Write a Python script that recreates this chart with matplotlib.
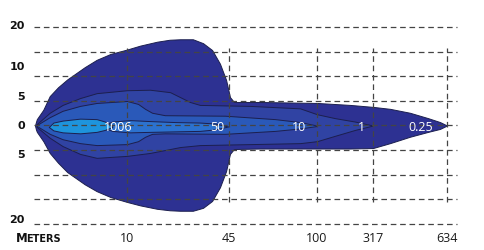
#!/usr/bin/env python
#-*- coding: utf-8 -*-
import numpy as np
import matplotlib
matplotlib.use('Agg')
import matplotlib.pyplot as plt
from matplotlib.transforms import blended_transform_factory

# distance ticks (m) and where they sit across the picture
DIST_TICKS = [10, 45, 100, 317, 634]
DIST_LABELS = ['10', '45', '100', '317', '634']
DIST_NODES = [0, 10, 45, 100, 317, 634]
POS_NODES = [35, 127, 229, 317, 373, 447]

# lateral ticks (m); label text as printed
Y_TICK_POS = [20.3, 12.0, 5.9, -0.2, -6.0, -19.3]
Y_TICK_LABELS = ['20', '10', '5', '0', '5', '20']
Y_GRID = [20, 15, 10, 5, 0, -5, -10, -15, -20]

# iso-lux outlines: distance (m), upper / lower edge (m)
lux025_d = [0, 0.1, 0.2, 0.9, 1.6, 2.5, 3.5, 5.4, 6.7, 8.2, 10, 14.5, 20.3, 24.6, 28.2, 32.6,
            36.1, 39.2, 41.9, 44.0, 45.6, 48.1, 64.4, 100, 228, 317, 390, 475, 553, 604, 634]
lux025_up = [0, 0.7, 1.3, 3.2, 6.0, 7.8, 9.4, 11.9, 13.4, 14.6, 15.5, 16.3, 17.1, 17.5, 17.6, 17.6,
             16.8, 15.4, 12.6, 9.3, 5.8, 4.8, 4.8, 4.6, 4.2, 3.8, 3.4, 2.6, 1.5, 0.7, 0]
lux025_lo = [0, -0.8, -1.3, -3.2, -5.6, -7.6, -9.5, -12.0, -13.4, -14.6, -15.6, -16.3, -17.0, -17.3, -17.4, -17.4,
             -16.8, -15.4, -12.6, -9.3, -5.8, -4.8, -4.7, -4.7, -4.7, -4.6, -3.6, -2.3, -1.3, -0.7, 0]

lux1_d = [0.2, 1.6, 3.0, 4.9, 6.7, 10, 17.9, 24.8, 28.2, 31.6, 35.0, 58.1, 89.4, 100, 169.8, 247.3, 317]
lux1_up = [0.3, 2.6, 4.2, 5.6, 6.6, 7.2, 7.3, 6.8, 5.8, 4.8, 4.2, 4.0, 3.5, 2.3, 1.5, 0.8, 0]
lux1_lo = [-0.3, -2.5, -4.2, -5.8, -6.6, -6.2, -5.6, -4.8, -4.4, -4.2, -4.0, -3.8, -3.6, -3.2, -2.1, -0.9, 0]

lux10_d = [0.2, 1.6, 3.0, 4.9, 6.7, 10, 13.8, 16.2, 18.6, 23.0, 43.6, 73.8, 89.4, 100]
lux10_up = [0.1, 1.7, 3.0, 4.0, 4.6, 5.0, 4.4, 3.4, 2.6, 2.1, 2.0, 1.3, 0.7, 0]
lux10_lo = [-0.1, -1.7, -2.8, -3.6, -4.0, -3.8, -3.2, -2.3, -1.7, -1.6, -1.7, -1.1, -0.6, -0.1]

lux50_d = [7.1, 8.4, 11.0, 17.9, 26.5, 35.0, 40.2, 44.7]
lux50_up = [-0.2, 0.8, 1.1, 0.9, 0.7, 0.6, 0.4, -0.2]
lux50_lo = [-0.2, -1.1, -1.4, -1.3, -1.2, -1.1, -0.8, -0.2]

lux1006_d = [1.5, 2.0, 3.0, 4.9, 6.7, 7.6, 8.4]
lux1006_up = [-0.3, 0.6, 1.0, 1.4, 1.3, 0.8, -0.2]
lux1006_lo = [-0.3, -1.0, -1.4, -1.6, -1.3, -0.9, -0.3]

LUX_LABELS = ['1006', '50', '10', '1', '0.25']
LUX_LABEL_D = [9.0, 40.9, 88.8, 274, 522]


def _slopes():
    s0 = (POS_NODES[1]-POS_NODES[0])/(DIST_NODES[1]-DIST_NODES[0])
    s1 = (POS_NODES[-1]-POS_NODES[-2])/(DIST_NODES[-1]-DIST_NODES[-2])
    return s0, s1

def fwd(d):
    d = np.asarray(d, dtype=float)
    s0, s1 = _slopes()
    p = np.interp(d, DIST_NODES, POS_NODES)
    p = np.where(d < DIST_NODES[0], POS_NODES[0]+(d-DIST_NODES[0])*s0, p)
    p = np.where(d > DIST_NODES[-1], POS_NODES[-1]+(d-DIST_NODES[-1])*s1, p)
    return p

def inv(p):
    p = np.asarray(p, dtype=float)
    s0, s1 = _slopes()
    d = np.interp(p, POS_NODES, DIST_NODES)
    d = np.where(p < POS_NODES[0], DIST_NODES[0]+(p-POS_NODES[0])/s0, d)
    d = np.where(p > POS_NODES[-1], DIST_NODES[-1]+(p-POS_NODES[-1])/s1, d)
    return d


def drawBeam():
    fig = plt.figure(figsize=(4.85, 2.5), dpi=100)
    ax = fig.add_axes([0, 0, 1, 1])
    ax.set_xscale('function', functions=(fwd, inv))
    ax.set_xlim(float(inv(0)), float(inv(485)))
    ax.set_ylim(-124.5/4.9, 125.5/4.9)
    ax.set_axis_off()

    edge = '#1c1f4e'
    layers = [(lux025_d, lux025_up, lux025_lo, '#2d3192'),
              (lux1_d, lux1_up, lux1_lo, '#3043a3'),
              (lux10_d, lux10_up, lux10_lo, '#2a59b9'),
              (lux50_d, lux50_up, lux50_lo, '#2c72cf'),
              (lux1006_d, lux1006_up, lux1006_lo, '#1e94dc')]
    for i, (dd, up, lo, col) in enumerate(layers):
        ax.fill_between(dd, lo, up, facecolor=col, edgecolor=edge, linewidth=0.7,
                        joinstyle='round', zorder=2+i)

    # dashed grid over the beam
    for yy in Y_GRID:
        ax.axhline(yy, xmin=34/485., xmax=457/485., color='#444444', lw=0.9,
                   linestyle=(0, (4.5, 3)), zorder=10)
    for xx in DIST_TICKS:
        ax.axvline(xx, ymin=48/250., ymax=202/250., color='#444444', lw=0.9,
                   linestyle=(0, (4.5, 3)), zorder=10)

    for lab, dd in zip(LUX_LABELS, LUX_LABEL_D):
        ax.text(dd, -0.5, lab, color='white', fontsize=9, family='Open Sans',
                ha='center', va='center', zorder=12)

    tx = blended_transform_factory(ax.transData, ax.transAxes)
    for lab, dd in zip(DIST_LABELS, DIST_TICKS):
        ax.text(dd, 12/250., lab, transform=tx, fontsize=9, family='Open Sans',
                color='#1a1a1a', ha='center', va='center')
    ty = blended_transform_factory(ax.transAxes, ax.transData)
    for lab, yy in zip(Y_TICK_LABELS, Y_TICK_POS):
        ax.text(25/485., yy, lab, transform=ty, fontsize=8, fontweight='bold',
                color='#111111', ha='right', va='center')

    ax.text(16/485., 12/250., 'M', transform=ax.transAxes, fontsize=8.5,
            fontweight='bold', ha='left', va='center', color='#111111')
    ax.text(26.5/485., 11.5/250., 'ETERS', transform=ax.transAxes, fontsize=7,
            fontweight='bold', ha='left', va='center', color='#111111')

    fig.savefig('out.png', dpi=100)


if __name__ == "__main__":
    drawBeam()
